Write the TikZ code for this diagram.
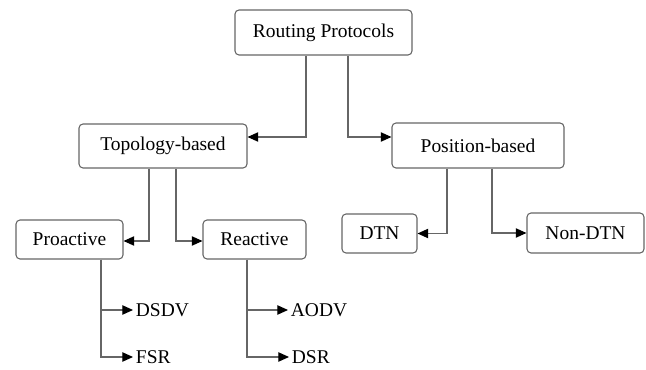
\documentclass[tikz,border=0pt]{standalone}
\usepackage{fontspec}
\setmainfont{Liberation Serif}
\usetikzlibrary{arrows.meta,calc}

\tikzset{
  box/.style={draw=black!60, rounded corners=3pt, line width=0.8pt, inner sep=0pt,
    font=\fontsize{14.6}{17}\selectfont},
  leaf/.style={anchor=west, inner sep=2pt, font=\fontsize{14.6}{17}\selectfont},
  link/.style={draw=black!60, line width=0.9pt,
    -{Triangle[length=8pt,width=7pt,color=black]}}
}

\begin{document}
\begin{tikzpicture}[x=0.75pt,y=-0.75pt]
    \useasboundingbox (0,0) rectangle (646,370);

    % Step 1: boxes (name / centre / size in pt / text)
    \foreach \id/\px/\py/\w/\h/\txt in {
        RP/323.5/32.5/132.75/33.75/Routing Protocols,
        TB/163/146/126/33/Topology-based,
        PB/478/145.5/129/33.75/Position-based,
        PRO/69.5/239.5/80.25/29.25/Proactive,
        REA/254.5/239.5/77.25/29.25/Reactive,
        DTN/379.5/233.5/56.25/29.25/DTN,
        NDTN/585.5/233/87.75/30/Non-DTN} {
        \node[box, minimum width=\w pt, minimum height=\h pt] (\id) at (\px,\py) {\txt};
    }

    % Step 2: protocols
    \node[leaf] (DSDV) at (133,310) {DSDV};
    \node[leaf] (FSR)  at (133,357) {FSR};
    \node[leaf] (AODV) at (288,310) {AODV};
    \node[leaf] (DSR)  at (289,357) {DSR};

    % Step 3: top level
    \draw[link] ($(RP.south)+(-17.5,0)$) |- ($(TB.east)+(0,-9)$);
    \draw[link] ($(RP.south)+(24.5,0)$) |- ($(PB.west)+(0,-8.5)$);

    % Step 4: second level
    \draw[link] ($(TB.south)+(-14,0)$) |- ($(PRO.east)+(0,1.5)$);
    \draw[link] ($(TB.south)+(13,0)$) |- ($(REA.west)+(0,1.5)$);
    \draw[link] ($(PB.south)+(-31,0)$) |- (DTN.east);
    \draw[link] ($(PB.south)+(14,0)$) |- (NDTN.west);

    % Step 5: leaves
    \draw[link] ($(PRO.south)+(31.5,0)$) |- (DSDV.west);
    \draw[link] ($(PRO.south)+(31.5,0)$) |- (FSR.west);
    \draw[link] ($(REA.south)+(-7.5,0)$) |- (AODV.west);
    \draw[link] ($(REA.south)+(-7.5,0)$) |- (DSR.west);

\end{tikzpicture}
\end{document}
